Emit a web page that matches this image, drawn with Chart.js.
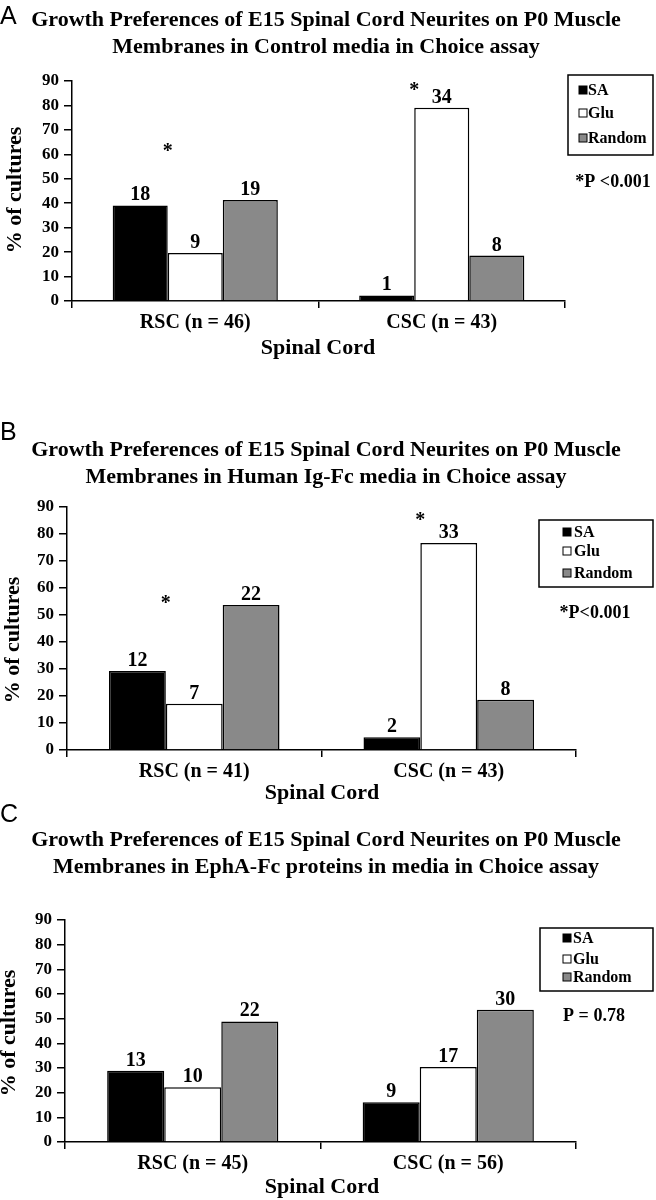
<!DOCTYPE html>
<html>
<head>
<meta charset="utf-8">
<script src="https://cdn.jsdelivr.net/npm/chart.js@4.4.1/dist/chart.umd.min.js"></script>
<style>
    body { margin: 0; background: #fff; width: 656px; height: 1200px; position: relative; overflow: hidden; }
    canvas { position: absolute; left: 0; }
</style>
</head>
<body>
<canvas id="chartA" width="656" height="390" style="top:0"></canvas>
<canvas id="chartB" width="656" height="420" style="top:390px"></canvas>
<canvas id="chartC" width="656" height="400" style="top:800px"></canvas>
<script>
// Dados - painel A (Control)
const categoriesA = ['RSC (n = 46)', 'CSC (n = 43)'];
const saA = [39.1, 2.3];
const gluA = [19.6, 79.1];
const randomA = [41.3, 18.6];
const saCountA = [18, 1];
const gluCountA = [9, 34];
const randomCountA = [19, 8];
const starsA = [63, 88];

// Dados - painel B (Human Ig-Fc)
const categoriesB = ['RSC (n = 41)', 'CSC (n = 43)'];
const saB = [29.3, 4.7];
const gluB = [17.1, 76.7];
const randomB = [53.7, 18.6];
const saCountB = [12, 2];
const gluCountB = [7, 33];
const randomCountB = [22, 8];
const starsB = [56, 86.5];

// Dados - painel C (EphA-Fc)
const categoriesC = ['RSC (n = 45)', 'CSC (n = 56)'];
const saC = [28.9, 16.1];
const gluC = [22.2, 30.4];
const randomC = [48.9, 53.6];
const saCountC = [13, 9];
const gluCountC = [10, 17];
const randomCountC = [22, 30];
const starsC = [];

const yTicks = [0, 10, 20, 30, 40, 50, 60, 70, 80, 90];

const serif = "'Liberation Serif', 'Times New Roman', serif";

// desenha textos, legenda e asteriscos
const decoPlugin = {
    id: 'deco',
    afterDraw(chart, args, o) {
        const ctx = chart.ctx;
        const y = chart.scales.y;
        ctx.save();
        ctx.fillStyle = '#000';

        // letra do painel
        ctx.font = "25px 'Liberation Sans', Arial, sans-serif";
        ctx.textAlign = 'left';
        ctx.textBaseline = 'top';
        ctx.fillText(o.letter, 0, o.letterTop);

        // titulo
        ctx.font = 'bold 22px ' + serif;
        ctx.textAlign = 'center';
        ctx.textBaseline = 'middle';
        ctx.fillText(o.title[0], o.titleX, o.titleY[0]);
        ctx.fillText(o.title[1], o.titleX, o.titleY[1]);

        // eixo y
        ctx.save();
        ctx.translate(o.yTitleX, o.yTitleY);
        ctx.rotate(-Math.PI / 2);
        ctx.fillText('% of cultures', 0, 0);
        ctx.restore();

        // eixo x
        ctx.fillText('Spinal Cord', o.xTitleX, o.xTitleY);

        // valores acima das barras
        ctx.font = 'bold 20px ' + serif;
        ctx.textBaseline = 'alphabetic';
        chart.data.datasets.forEach((ds, i) => {
            const meta = chart.getDatasetMeta(i);
            meta.data.forEach((bar, j) => {
                ctx.fillText(String(ds.counts[j]), bar.x, bar.y - 5);
            });
        });

        // asteriscos
        ctx.font = 'bold 20px ' + serif;
        o.stars.forEach((v, j) => {
            const b0 = chart.getDatasetMeta(0).data[j];
            const b1 = chart.getDatasetMeta(1).data[j];
            const x = (b0.x + b0.width / 2 + b1.x - b1.width / 2) / 2;
            ctx.fillText('*', x, y.getPixelForValue(v) + 10);
        });

        // legenda
        const L = o.legend;
        ctx.lineWidth = 1.5;
        ctx.strokeStyle = '#000';
        ctx.strokeRect(L.x, L.y, L.w, L.h);
        ctx.font = 'bold 16px ' + serif;
        ctx.textAlign = 'left';
        ctx.textBaseline = 'middle';
        chart.data.datasets.forEach((ds, i) => {
            const ry = L.rows[i];
            ctx.fillStyle = ds.backgroundColor;
            ctx.fillRect(L.sq, ry - 4, 8, 8);
            ctx.lineWidth = 1;
            ctx.strokeRect(L.sq, ry - 4, 8, 8);
            ctx.fillStyle = '#000';
            ctx.fillText(ds.label, L.tx, ry + 1);
        });

        // valor de P
        ctx.font = 'bold 18px ' + serif;
        ctx.textAlign = 'center';
        ctx.fillText(o.pText, o.pX, o.pY);
        ctx.restore();
    }
};

function makeChart(id, categories, sa, glu, random, counts, area, deco) {
    const ctx = document.getElementById(id).getContext('2d');
    const h = ctx.canvas.height;
    return new Chart(ctx, {
        type: 'bar',
        data: {
            labels: categories,
            datasets: [
                { label: 'SA', data: sa, counts: counts[0], backgroundColor: '#000000' },
                { label: 'Glu', data: glu, counts: counts[1], backgroundColor: '#ffffff' },
                { label: 'Random', data: random, counts: counts[2], backgroundColor: '#898989' }
            ]
        },
        options: {
            responsive: false,
            animation: false,
            events: [],
            datasets: {
                bar: {
                    categoryPercentage: 0.67,
                    barPercentage: 1.0,
                    borderColor: '#000',
                    borderWidth: 1.5,
                    borderSkipped: 'bottom'
                }
            },
            layout: {
                padding: { left: 0, right: 656 - area.right, top: area.top, bottom: h - area.bottom - 40 }
            },
            plugins: {
                legend: { display: false },
                tooltip: { enabled: false },
                deco: deco
            },
            scales: {
                x: {
                    afterFit: s => { s.height = 40; },
                    border: { color: '#000', width: 1.5 },
                    grid: { drawOnChartArea: false, offset: true, color: '#000', tickLength: 7, lineWidth: 1.5 },
                    ticks: { color: '#000', font: { family: serif, size: 20, weight: 'bold' }, padding: 3 }
                },
                y: {
                    min: 0,
                    max: 90,
                    afterFit: s => { s.width = area.left; },
                    afterBuildTicks: s => { s.ticks = yTicks.map(v => ({ value: v })); },
                    border: { color: '#000', width: 1.5 },
                    grid: { drawOnChartArea: false, color: '#000', tickLength: 8, lineWidth: 1.5 },
                    ticks: { color: '#000', font: { family: serif, size: 17, weight: 'bold' }, padding: 5 }
                }
            }
        },
        plugins: [decoPlugin]
    });
}

const title1 = 'Growth Preferences of E15 Spinal Cord Neurites on P0 Muscle';

makeChart('chartA', categoriesA, saA, gluA, randomA, [saCountA, gluCountA, randomCountA],
    { left: 72, right: 565, top: 81, bottom: 301 },
    {
        letter: 'A', letterTop: 5,
        title: [title1, 'Membranes in Control media in Choice assay'], titleX: 326, titleY: [20, 47],
        yTitleX: 15, yTitleY: 190, xTitleX: 318, xTitleY: 348,
        stars: starsA,
        legend: { x: 568, y: 75, w: 85, h: 80, rows: [90, 113, 138], sq: 579, tx: 588 },
        pText: '*P <0.001', pX: 613, pY: 182
    });

makeChart('chartB', categoriesB, saB, gluB, randomB, [saCountB, gluCountB, randomCountB],
    { left: 67, right: 576, top: 117, bottom: 360 },
    {
        letter: 'B', letterTop: 31,
        title: [title1, 'Membranes in Human Ig-Fc media in Choice assay'], titleX: 326, titleY: [60, 87],
        yTitleX: 13, yTitleY: 250, xTitleX: 322, xTitleY: 403,
        stars: starsB,
        legend: { x: 539, y: 130, w: 114, h: 67, rows: [142, 161, 183], sq: 563, tx: 574 },
        pText: '*P<0.001', pX: 595, pY: 223
    });

makeChart('chartC', categoriesC, saC, gluC, randomC, [saCountC, gluCountC, randomCountC],
    { left: 65, right: 576, top: 120, bottom: 342 },
    {
        letter: 'C', letterTop: 3,
        title: [title1, 'Membranes in EphA-Fc proteins in media in Choice assay'], titleX: 326, titleY: [40, 67],
        yTitleX: 9, yTitleY: 233, xTitleX: 322, xTitleY: 387,
        stars: starsC,
        legend: { x: 540, y: 128, w: 113, h: 63, rows: [138, 159, 177], sq: 563, tx: 573 },
        pText: 'P = 0.78', pX: 594, pY: 216
    });
</script>
</body>
</html>
